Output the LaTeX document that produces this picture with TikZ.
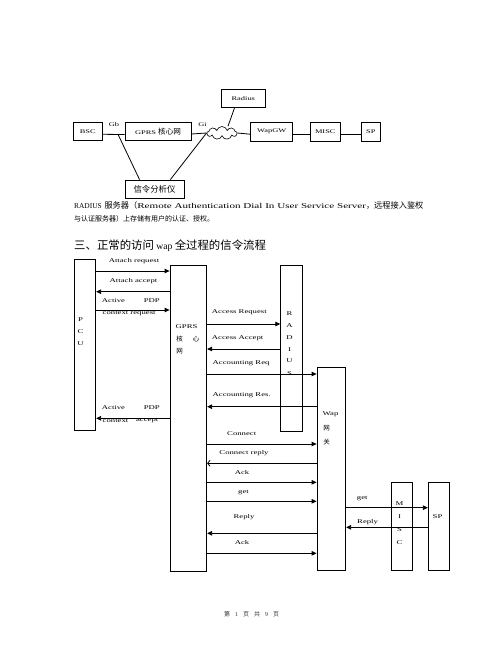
\documentclass[tikz,border=0pt]{standalone}
\usepackage{fontspec}
\setmainfont{Liberation Serif}[FakeStretch=1.5]
\newfontfamily\plainlat{Liberation Serif}
\newfontfamily\cjk{Noto Sans CJK SC}
\usetikzlibrary{arrows.meta,shapes.symbols,calc}
\newcommand\topf{\fontsize{5.6}{6.5}\selectfont}
\newcommand\seqf{\fontsize{5.8}{7}\selectfont}
\newcommand\seqzh{\cjk\fontsize{6.5}{7}\selectfont}
\newcommand\zhb[1]{{\cjk\fontsize{8.2}{9}\selectfont #1}}
\begin{document}
\begin{tikzpicture}[x=1pt,y=-1pt,
  box/.style={draw,line width=0.8pt,inner sep=0pt},
  lnk/.style={line width=0.8pt},
  lbl/.style={inner sep=0pt,font=\seqf},
  zlbl/.style={inner sep=0pt,font=\seqzh},
  msg/.style={line width=0.8pt,-{Triangle[length=5pt,width=4.5pt]}},
  omsg/.style={line width=0.8pt,-{Straight Barb[length=2.5pt,width=6pt]}}]
\useasboundingbox (0,0) rectangle (502,649);
\fill[white] (0,0) rectangle (502,649);

% ---------- top network diagram ----------
\node[box,minimum width=29pt,minimum height=18pt,font=\topf] (bsc) at (87.8,131.3) {BSC};
\node[box,minimum width=66pt,minimum height=18.4pt,font=\topf] (gprs) at (158,131.5) {GPRS {\cjk\fontsize{7.6}{8}\selectfont 核心网}};
\node[cloud,draw,line width=0.6pt,cloud puffs=9,aspect=2.4,minimum width=30pt,minimum height=13pt,inner sep=0pt] (cloud) at (222,133) {};
\node[box,minimum width=43.3pt,minimum height=18.7pt,font=\topf] (rad) at (243.3,98.3) {Radius};
\node[box,minimum width=42pt,minimum height=18.7pt,font=\topf] (wapgw) at (271.7,131.7) {WapGW};
\node[box,minimum width=30.7pt,minimum height=18.7pt,font=\topf] (misc) at (325.3,131.7) {MISC};
\node[box,minimum width=18.3pt,minimum height=18.7pt,font=\topf] (sp) at (370.8,131.7) {SP};
\node[box,minimum width=59pt,minimum height=18pt,font={\cjk\fontsize{8.4}{9}\selectfont}] (sig) at (154.5,189) {信令分析仪};

\draw[lnk] ([yshift=-3pt]bsc.east) -- ([yshift=-3pt]gprs.west);
\draw[lnk] ([yshift=-2.5pt]gprs.east) -- (cloud.west);
\draw[lnk] (cloud.east) -- ([yshift=-2.5pt]wapgw.west);
\draw[lnk] ([yshift=-2.5pt]wapgw.east) -- ([yshift=-2.5pt]misc.west);
\draw[lnk] ([yshift=-2.5pt]misc.east) -- ([yshift=-2.5pt]sp.west);
\coordinate (gb) at (118,134.3);
\draw[lnk] (gb) -- ($(sig.north west)!0.25!(sig.north east)$);
\draw[lnk] (cloud.west) -- ($(sig.north west)!0.765!(sig.north east)$);
\draw[lnk] ($(rad.south west)!0.3!(rad.south east)$) -- ([xshift=6pt]cloud.north);
\node[inner sep=0pt,font=\topf] (gbl) at (114,124.3) {Gb};
\node[inner sep=0pt,font=\topf] (gil) at (202.5,124.3) {Gi};

% ---------- paragraph ----------
\node[anchor=base west,inner sep=0pt,font=\fontsize{7.4}{9}\selectfont] (p1) at (74,208.5)
  {{\plainlat RADIUS} \zhb{服务器（}Remote Authentication Dial In User Service Server\zhb{，远程接入鉴权}};
\node[anchor=base west,inner sep=0pt] (p2) at (74,221.5)
  {{\cjk\fontsize{7}{9}\selectfont 与认证服务器）上存储有用户的认证、授权。}};
\node[anchor=base west,inner sep=0pt] (head) at (74,249.3)
  {{\cjk\fontsize{11.4}{13}\selectfont 三、正常的访问}{\plainlat\fontsize{9.6}{13}\selectfont{} wap }{\cjk\fontsize{11.4}{13}\selectfont 全过程的信令流程}};

% ---------- sequence diagram ----------
\node[box,minimum width=21.7pt,minimum height=171.7pt] (pcu) at (84.85,344.85) {};
\node[box,minimum width=36.7pt,minimum height=306.7pt] (core) at (188.35,418.35) {};
\node[box,minimum width=22pt,minimum height=166pt] (radius) at (291.7,348) {};
\node[box,minimum width=28.7pt,minimum height=203.7pt] (wap) at (331.35,468.85) {};
\node[box,minimum width=20.6pt,minimum height=88.4pt] (misc2) at (402,526.5) {};
\node[box,minimum width=20.7pt,minimum height=88.4pt] (sp2) at (438.65,526.5) {};

% box labels
\foreach \t/\yy [count=\i] in {P/320,C/331.7,U/343.3}
  \node[lbl] (pcu\i) at (80.5,\yy) {\t};
\node[lbl,anchor=west] (coreA) at (175.5,326.7) {GPRS};
\node[zlbl] (coreB) at (179.5,339) {核};
\node[zlbl] (coreC) at (196,339) {心};
\node[zlbl] (coreD) at (179.5,351.7) {网};
\foreach \t/\yy [count=\i] in {R/314,A/326,D/337.7,I/349.4,U/361,S/374}
  \node[lbl] (rad\i) at (289.5,\yy) {\t};
\node[lbl,anchor=west] (wapA) at (322.5,414) {Wap};
\node[zlbl] (wapB) at (326.5,428) {网};
\node[zlbl] (wapC) at (326.5,442) {关};
\foreach \t/\yy [count=\i] in {M/504,I/517,S/530,C/542.7}
  \node[lbl] (misc\i) at (399.5,\yy) {\t};
\node[lbl] (spl) at (437.5,516.7) {SP};

% messages PCU <-> GPRS
\draw[msg] (pcu.east |- 0,271) -- (core.west |- 0,271);
\node[lbl] (m1) at (134,261) {Attach request};
\draw[msg] (core.west |- 0,291.7) -- (pcu.east |- 0,291.7);
\node[lbl] (m2) at (133.5,281.3) {Attach accept};
\draw[msg] (pcu.east |- 0,310) -- (core.west |- 0,310);
\node[lbl,anchor=west] (m3a) at (101.7,300.5) {Active};
\node[lbl,anchor=east] (m3b) at (160,300.5) {PDP};
\node[lbl,anchor=west] (m3c) at (102.5,313.5) {context request};
\draw[msg] (core.west |- 0,418.3) -- (pcu.east |- 0,418.3);
\node[lbl,anchor=west] (m4a) at (101.7,408) {Active};
\node[lbl,anchor=east] (m4b) at (160,408) {PDP};
\node[lbl,anchor=west] (m4c) at (102.5,420.5) {context};
\node[lbl,anchor=east] (m4d) at (158.5,420.5) {accept};

% messages GPRS <-> RADIUS / Wap
\draw[msg] (core.east |- 0,324) -- (radius.west |- 0,324);
\node[lbl,anchor=west] (m5) at (211.7,312.3) {Access Request};
\draw[msg] (radius.west |- 0,349) -- (core.east |- 0,349);
\node[lbl,anchor=west] (m6) at (211.7,338) {Access Accept};
\draw[msg] (core.east |- 0,374) -- (wap.west |- 0,374);
\node[lbl,anchor=west] (m7) at (212.5,363) {Accounting Req};
\draw[msg] (wap.west |- 0,406.7) -- (core.east |- 0,406.7);
\node[lbl,anchor=west] (m8) at (212.5,395) {Accounting Res.};
\draw[msg] (core.east |- 0,444) -- (wap.west |- 0,444);
\node[lbl] (m9) at (241.7,434) {Connect};
\draw[omsg] (wap.west |- 0,463.3) -- (core.east |- 0,463.3);
\node[lbl] (m10) at (244,453) {Connect reply};
\draw[msg] (core.east |- 0,482.3) -- (wap.west |- 0,482.3);
\node[lbl] (m11) at (242,472.7) {Ack};
\draw[msg] (core.east |- 0,501.3) -- (wap.west |- 0,501.3);
\node[lbl] (m12) at (243.5,492.7) {get};
\draw[msg] (wap.west |- 0,533.3) -- (core.east |- 0,533.3);
\node[lbl] (m13) at (244,517.3) {Reply};
\draw[msg] (core.east |- 0,553.3) -- (wap.west |- 0,553.3);
\node[lbl] (m14) at (242,542.7) {Ack};

% messages Wap <-> SP
\draw[msg] (wap.east |- 0,507.7) -- (sp2.west |- 0,507.7);
\node[lbl,anchor=west] (m15) at (356.7,498.5) {get};
\draw[msg] (sp2.west |- 0,527.3) -- (wap.east |- 0,527.3);
\node[lbl,anchor=west] (m16) at (357,522.3) {Reply};

% footer
\node[inner sep=0pt,text=black!80,font={\cjk\fontsize{6}{7}\selectfont}] (foot) at (251.7,614.3)
  {第\hspace{5pt}{\plainlat\fontsize{6}{7}\selectfont 1}\hspace{5pt}页\hspace{5pt}共\hspace{5pt}{\plainlat\fontsize{6}{7}\selectfont 9}\hspace{5pt}页};
\end{tikzpicture}
\end{document}
